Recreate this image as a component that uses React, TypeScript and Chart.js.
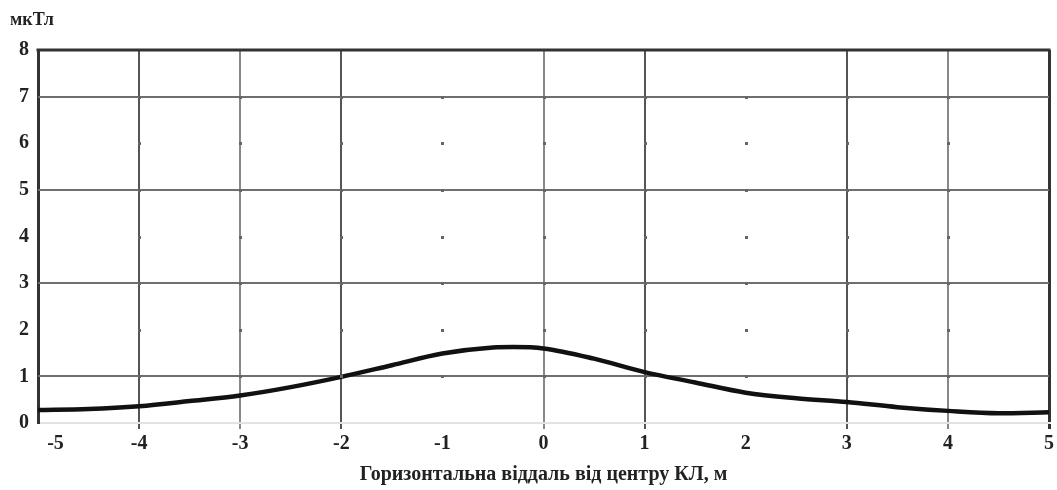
import React, { useEffect, useRef } from "react";
import { Chart, registerables } from "chart.js";

Chart.register(...registerables);

const distances = [-5, -4.5, -4, -3.5, -3, -2.5, -2, -1.5, -1, -0.5, -0.3, 0, 0.5, 1, 1.5, 2, 2.5, 3, 3.5, 4, 4.5, 5];
const inductionValues = [0.28, 0.3, 0.36, 0.47, 0.59, 0.77, 0.99, 1.24, 1.49, 1.62, 1.63, 1.6, 1.38, 1.09, 0.87, 0.65, 0.53, 0.45, 0.34, 0.26, 0.21, 0.23];
const xTickValues = [-5, -4, -3, -2, -1, 0, 1, 2, 3, 4, 5];
const yTickValues = [0, 1, 2, 3, 4, 5, 6, 7, 8];
const yGridLines = [1, 3, 5, 7];
const dottedColumns = [-1, 2];
const darkColumns = [-2, 1, 3, -4];
const unitLabel = "мкТл";
const xAxisTitle = "Горизонтальна віддаль від центру КЛ, м";

const FONT = "'Liberation Serif', 'DejaVu Serif', serif";
const TRANSPARENT = "rgba(0,0,0,0)";

const gridPlugin = {
  id: "gridPlugin",
  beforeDatasetsDraw(chart: any) {
    const { ctx, scales, chartArea } = chart;
    const ys = scales.y;
    ctx.save();
    ctx.strokeStyle = "#6f6f6f";
    ctx.lineWidth = 2;
    for (const yv of yGridLines) {
      const py = Math.round(ys.getPixelForValue(yv));
      ctx.beginPath();
      ctx.moveTo(chartArea.left, py);
      ctx.lineTo(chartArea.right, py);
      ctx.stroke();
    }
    ctx.strokeStyle = "#333";
    ctx.lineWidth = 3;
    const top = ys.getPixelForValue(8);
    ctx.beginPath();
    ctx.moveTo(chartArea.left - 1.5, top);
    ctx.lineTo(chartArea.right + 1.5, top);
    ctx.stroke();
    ctx.restore();
  },
  afterDatasetsDraw(chart: any) {
    const { ctx, scales } = chart;
    const xs = scales.x;
    const ys = scales.y;
    ctx.save();
    ctx.fillStyle = "#666";
    for (const xv of xTickValues) {
      if (xv <= -5 || xv >= 5) continue;
      for (const yv of yTickValues) {
        if (yv <= 0 || yv >= 8) continue;
        const px = xs.getPixelForValue(xv);
        const py = ys.getPixelForValue(yv);
        ctx.fillRect(Math.round(px) - 1, Math.round(py) - 1, 3, 3);
      }
    }
    ctx.restore();
  },
  afterDraw(chart: any) {
    const { ctx, chartArea } = chart;
    ctx.save();
    ctx.fillStyle = "#222";
    ctx.font = `bold 18px ${FONT}`;
    ctx.textAlign = "left";
    ctx.textBaseline = "middle";
    ctx.fillText(unitLabel, chartArea.left - 28, chartArea.top - 30);
    ctx.restore();
  },
};

function xGridColor(v: number): string {
  if (v === -5) return TRANSPARENT;
  if (v === 5) return "#333";
  if (dottedColumns.includes(v)) return TRANSPARENT;
  if (darkColumns.includes(v)) return "#555";
  return "#888";
}

export default function App() {
  const canvasRef = useRef<HTMLCanvasElement | null>(null);

  useEffect(() => {
    document.body.style.margin = "0";
    const canvas = canvasRef.current;
    if (!canvas) return;
    const chart = new Chart(canvas, {
      type: "line",
      data: {
        datasets: [
          {
            data: distances.map((x, i) => ({ x, y: inductionValues[i] })),
            borderColor: "#111",
            borderWidth: 4.5,
            pointRadius: 0,
            tension: 0.4,
            cubicInterpolationMode: "monotone",
            fill: false,
          },
        ],
      },
      options: {
        animation: false,
        responsive: false,
        maintainAspectRatio: false,
        layout: { padding: { top: 50, right: 8, left: 0, bottom: 0 } },
        plugins: {
          legend: { display: false },
          tooltip: { enabled: false },
          title: { display: false },
        },
        scales: {
          x: {
            type: "linear",
            min: -5,
            max: 5,
            afterBuildTicks: (scale: any) => {
              scale.ticks = xTickValues.map((v) => ({ value: v }));
            },
            afterFit: (scale: any) => {
              scale.height = 67;
            },
            ticks: {
              color: "#222",
              font: { family: FONT, size: 20, weight: "bold" },
              padding: 3,
              maxRotation: 0,
              autoSkip: false,
              callback: (v: any) => (v === -5 ? "\u00A0\u00A0\u00A0\u00A0\u00A0\u00A0\u00A0-5" : String(v)),
            },
            grid: {
              color: (ctx: any) => xGridColor(xTickValues[ctx.index]),
              lineWidth: (ctx: any) => (xTickValues[ctx.index] === 5 ? 3 : 2),
              drawTicks: true,
              tickLength: 6,
              tickColor: (ctx: any) => xGridColor(xTickValues[ctx.index]),
            },
            border: { display: true, color: "#e2e2e2", width: 2 },
            title: {
              display: true,
              text: xAxisTitle,
              color: "#222",
              font: { family: FONT, size: 20, weight: "bold" },
              padding: { top: 2, bottom: 3 },
            },
          },
          y: {
            type: "linear",
            min: 0,
            max: 8,
            afterBuildTicks: (scale: any) => {
              scale.ticks = yTickValues.map((v) => ({ value: v }));
            },
            afterFit: (scale: any) => {
              scale.width = 38;
            },
            ticks: {
              color: "#222",
              font: { family: FONT, size: 20, weight: "bold" },
              padding: 9,
              autoSkip: false,
            },
            grid: { display: false, drawTicks: false },
            border: { display: true, color: "#333", width: 3 },
          },
        },
      },
      plugins: [gridPlugin],
    } as any);
    return () => chart.destroy();
  }, []);

  return (
    <div style={{ width: 1057, height: 490, background: "#fff" }}>
      <canvas ref={canvasRef} width={1057} height={490} style={{ display: "block" }} />
    </div>
  );
}
